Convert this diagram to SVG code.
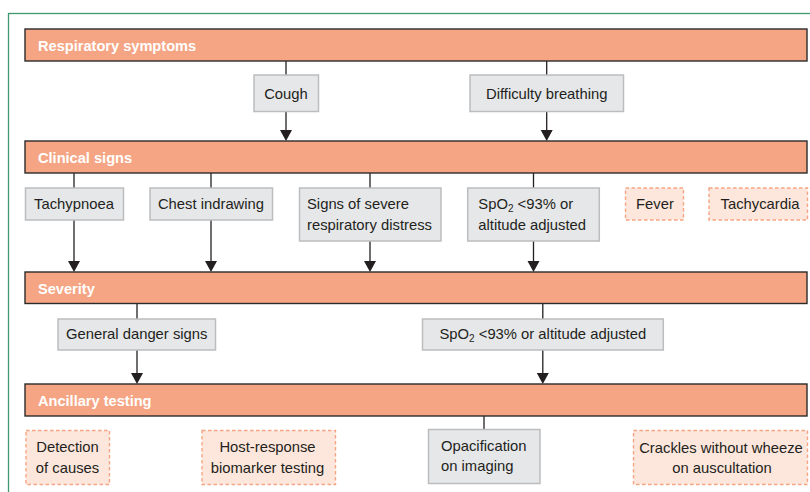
<svg xmlns="http://www.w3.org/2000/svg" width="810" height="492" viewBox="0 0 810 492">
<defs>
<marker id="arr" markerUnits="userSpaceOnUse" markerWidth="13" markerHeight="12" viewBox="0 0 13 12" refX="6.5" refY="11" orient="auto-start-reverse">
<path d="M0.5,0 L12.5,0 L6.5,11 Z" fill="#231F20" transform="rotate(-90 6.5 6)" />
</marker>
</defs>
<style>
.band{fill:#F5A584;stroke:#2B2B2B;stroke-width:1.4}
.bt{font-family:"Liberation Sans",Arial,sans-serif;font-size:14.6px;font-weight:bold;fill:#FFFFFF}
.g{fill:#E6E7E9;stroke:#BCBDBF;stroke-width:1.5}
.d{fill:#FDE6DB;stroke:#F5A584;stroke-width:1.4;stroke-dasharray:3.5,2.5}
.t{font-family:"Liberation Sans",Arial,sans-serif;font-size:14.8px;fill:#231F20}
.c{text-anchor:middle}
.ln{stroke:#231F20;stroke-width:1.3;fill:none}
.ah{fill:#231F20}
</style>
<rect x="0" y="0" width="810" height="492" fill="#FFFFFF"/>
<rect x="8.5" y="13.5" width="900" height="600" fill="none" stroke="#3E9A6E" stroke-width="1.3"/>

<g id="connectors">
<line class="ln" x1="286" y1="61" x2="286" y2="75"/>
<line class="ln" x1="286" y1="111" x2="286" y2="131"/>
<polygon class="ah" points="280,130 292,130 286,141"/>
<line class="ln" x1="546.7" y1="61" x2="546.7" y2="75"/>
<line class="ln" x1="546.7" y1="111" x2="546.7" y2="131"/>
<polygon class="ah" points="540.7,130 552.7,130 546.7,141"/>

<line class="ln" x1="74" y1="173" x2="74" y2="188"/>
<line class="ln" x1="74" y1="220" x2="74" y2="262"/>
<polygon class="ah" points="68,261 80,261 74,272"/>
<line class="ln" x1="211" y1="173" x2="211" y2="188"/>
<line class="ln" x1="211" y1="220" x2="211" y2="262"/>
<polygon class="ah" points="205,261 217,261 211,272"/>
<line class="ln" x1="370" y1="173" x2="370" y2="188"/>
<line class="ln" x1="370" y1="241" x2="370" y2="262"/>
<polygon class="ah" points="364,261 376,261 370,272"/>
<line class="ln" x1="533.5" y1="173" x2="533.5" y2="188"/>
<line class="ln" x1="533.5" y1="241" x2="533.5" y2="262"/>
<polygon class="ah" points="527.5,261 539.5,261 533.5,272"/>

<line class="ln" x1="137" y1="303" x2="137" y2="319"/>
<line class="ln" x1="137" y1="350" x2="137" y2="374"/>
<polygon class="ah" points="131,373 143,373 137,384"/>
<line class="ln" x1="542.8" y1="303" x2="542.8" y2="319"/>
<line class="ln" x1="542.8" y1="350" x2="542.8" y2="374"/>
<polygon class="ah" points="536.8,373 548.8,373 542.8,384"/>

<line class="ln" x1="484" y1="416" x2="484" y2="429"/>
</g>

<g id="band-respiratory">
<rect class="band" x="25" y="29" width="782" height="32"/>
<text class="bt" x="38" y="51">Respiratory symptoms</text>
</g>
<g id="node-cough">
<rect class="g" x="254" y="75" width="64.5" height="36.5"/>
<text class="t c" x="286" y="98.5">Cough</text>
</g>
<g id="node-difficulty">
<rect class="g" x="470" y="75" width="153.5" height="36.5"/>
<text class="t c" x="546.7" y="98.5">Difficulty breathing</text>
</g>

<g id="band-clinical">
<rect class="band" x="25" y="141" width="782" height="32"/>
<text class="bt" x="38" y="163">Clinical signs</text>
</g>
<g id="node-tachypnoea">
<rect class="g" x="25.5" y="188" width="98" height="32"/>
<text class="t c" x="74" y="208.5">Tachypnoea</text>
</g>
<g id="node-chest">
<rect class="g" x="150" y="188" width="122.5" height="32"/>
<text class="t c" x="211" y="208.5">Chest indrawing</text>
</g>
<g id="node-distress">
<rect class="g" x="299.5" y="188" width="141.5" height="53"/>
<text class="t" x="307" y="208.5">Signs of severe</text>
<text class="t" x="307" y="229.5">respiratory distress</text>
</g>
<g id="node-spo2-a">
<rect class="g" x="467.7" y="188" width="131.6" height="53"/>
<text class="t" x="478.3" y="208.5">SpO<tspan font-size="10" dy="3">2</tspan><tspan dy="-3"> &lt;93% or</tspan></text>
<text class="t" x="478.3" y="229.5">altitude adjusted</text>
</g>
<g id="node-fever">
<rect class="d" x="625.5" y="188" width="58" height="32"/>
<text class="t c" x="655" y="208.5">Fever</text>
</g>
<g id="node-tachycardia">
<rect class="d" x="709" y="188" width="98.5" height="32"/>
<text class="t c" x="760" y="208.5">Tachycardia</text>
</g>

<g id="band-severity">
<rect class="band" x="25" y="272" width="782" height="31.5"/>
<text class="bt" x="38" y="293.5">Severity</text>
</g>
<g id="node-danger">
<rect class="g" x="58" y="319" width="157.5" height="31"/>
<text class="t c" x="136.7" y="339">General danger signs</text>
</g>
<g id="node-spo2-b">
<rect class="g" x="422.5" y="319" width="240.8" height="31"/>
<text class="t c" x="542.8" y="339">SpO<tspan font-size="10" dy="3">2</tspan><tspan dy="-3"> &lt;93% or altitude adjusted</tspan></text>
</g>

<g id="band-ancillary">
<rect class="band" x="25" y="384" width="782" height="32"/>
<text class="bt" x="38" y="406">Ancillary testing</text>
</g>
<g id="node-detection">
<rect class="d" x="26" y="430.5" width="83.5" height="54"/>
<text class="t c" x="67.5" y="452">Detection</text>
<text class="t c" x="67.5" y="472.5">of causes</text>
</g>
<g id="node-host">
<rect class="d" x="202" y="430.5" width="133.5" height="54"/>
<text class="t c" x="267.5" y="452">Host-response</text>
<text class="t c" x="267.5" y="472.5">biomarker testing</text>
</g>
<g id="node-opacification">
<rect class="g" x="428.5" y="429.5" width="111.5" height="54"/>
<text class="t" x="441" y="451">Opacification</text>
<text class="t" x="441" y="470.5">on imaging</text>
</g>
<g id="node-crackles">
<rect class="d" x="633.5" y="430.5" width="174" height="54"/>
<text class="t c" x="721" y="452.5">Crackles without wheeze</text>
<text class="t c" x="722" y="472.5">on auscultation</text>
</g>
</svg>
